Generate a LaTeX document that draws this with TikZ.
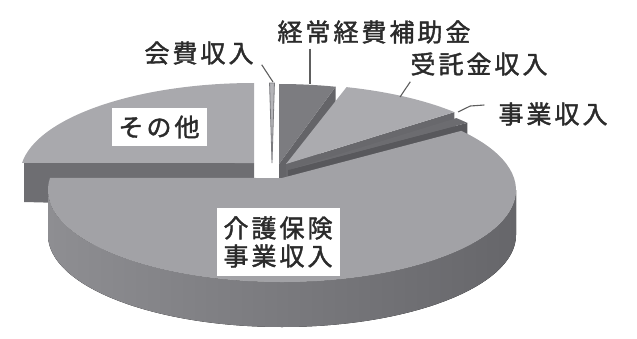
\documentclass[tikz,border=0pt]{standalone}
\usepackage{fontspec}
\newfontfamily\jpfont[LetterSpace=12, FakeBold=1.6]{Noto Sans CJK JP}
\definecolor{txt}{HTML}{2B2B2B}
\definecolor{lead}{HTML}{5E5E5E}
\definecolor{mainTop}{HTML}{A2A2A6}
\definecolor{sideL}{HTML}{8E8E92}
\definecolor{sideR}{HTML}{66666A}
\definecolor{sonotaTop}{HTML}{A9A9AD}
\definecolor{sonotaFace}{HTML}{6E6E72}
\definecolor{kaihiTop}{HTML}{B4B4B8}
\definecolor{kaihiEdge}{HTML}{7A7A7E}
\definecolor{keijoTop}{HTML}{7C7C80}
\definecolor{keijoFace}{HTML}{646468}
\definecolor{jutakuTop}{HTML}{ABABAF}
\definecolor{jutakuFace}{HTML}{68686C}
\definecolor{jigyoTop}{HTML}{6C6C70}
\definecolor{jigyoFace}{HTML}{58585C}

\begin{document}
\begin{tikzpicture}[
		x=1pt, y=1pt,
		declare function = {
				CX = 282;
				CY = 148;
				HY = 160;
				DP = 45;
				ex(\t) = CX + 234*cos(\t);
				ey(\t) = CY + 92*sin(\t);
			},
		rim/.style = {x radius=234pt, y radius=92pt},
		lbl/.style = {font=\jpfont\fontsize{25}{28}\selectfont, text=txt, inner sep=0pt},
		box/.style = {lbl, fill=white, inner xsep=7pt, inner ysep=8pt, align=center},
		leader/.style = {draw=lead, line width=1.1pt},
	]
	\useasboundingbox (0,0) rectangle (637,338);

	% その他 (pulled out to the upper left)
	\fill[sonotaFace] ({CX-28},{HY+15}) -- ({ex(172.5)-26},{ey(172.5)+15}) -- ++(0,-DP+6) -- ({CX-28},{HY+15-DP}) -- cycle;
	\fill[sonotaTop] ({CX-28},{HY+15}) -- ({ex(90)-28},{ey(90)+15}) arc[start angle=90, end angle=172.5, rim] -- cycle;

	% 会費収入 (thin sliver)
	\filldraw[fill=kaihiTop, draw=kaihiEdge, line width=0.8pt] ({CX-10},{HY+15}) -- ({ex(89.4)-10},{ey(89.4)+15}) arc[start angle=89.4, end angle=90.6, rim] -- cycle;

	% 経常経費補助金
	\fill[keijoFace] ({CX-3},{HY+14}) -- ({ex(76)-3},{ey(76)+14}) -- ++(0,-DP) -- ({CX-3},{HY+14-DP}) -- cycle;
	\fill[keijoTop] ({CX-3},{HY+14}) -- ({ex(76)-3},{ey(76)+14}) arc[start angle=76, end angle=90, rim] -- cycle;

	% 受託金収入
	\fill[jutakuFace] ({CX+4},{HY+14}) -- ({ex(44)+4},{ey(44)+14}) -- ++(0,-DP) -- ({CX+4},{HY+14-DP}) -- cycle;
	\fill[jutakuTop] ({CX+4},{HY+14}) -- ({ex(44)+4},{ey(44)+14}) arc[start angle=44, end angle=75, rim] -- cycle;

	% 事業収入
	\fill[jigyoFace] ({CX+6},{HY+8}) -- ({ex(40)+6},{ey(40)+8}) -- ++(0,-DP) -- ({CX+6},{HY+8-DP}) -- cycle;
	\fill[jigyoTop] ({CX+6},{HY+8}) -- ({ex(40)+6},{ey(40)+8}) arc[start angle=40, end angle=44, rim] -- cycle;

	% 介護保険事業収入 (main slice)
	\fill[left color=sideL, right color=sideR] ({ex(180)},{ey(180)}) arc[start angle=180, end angle=360, rim] -- ++(0,-DP) arc[start angle=360, end angle=180, rim] -- cycle;
	\fill[mainTop] (CX,HY) -- ({ex(172.5)},{ey(172.5)}) arc[start angle=172.5, end angle=400, rim] -- cycle;

	% labels
	\node[lbl] (keijo) at (374,306) {経常経費補助金};
	\node[lbl] (kaihi) at (199,285) {会費収入};
	\node[lbl] (jutaku) at (479,274) {受託金収入};
	\node[lbl] (jigyo) at (553,224) {事業収入};
	\node[box] (sonota) at (159,211) {その他};
	\node[box] (kaigo) at (278,96) {介護保険\\事業収入};

	\coordinate (kaihiTip) at (273,256);
	\coordinate (keijoTip) at (310,254);
	\coordinate (jutakuTip) at (400,241);
	\coordinate (jigyoTip) at (458,226);

	\draw[leader] ([xshift=8pt]kaihi.south east) -- (kaihiTip);
	\draw[leader] ([yshift=-5pt]keijo.south -| keijoTip) -- (keijoTip);
	\draw[leader] ([yshift=-6pt]jutaku.south west) -- (jutakuTip);
	\draw[leader] ([xshift=-14pt,yshift=9pt]jigyo.west) -- ++(-14,-1) -- (jigyoTip);
\end{tikzpicture}
\end{document}
